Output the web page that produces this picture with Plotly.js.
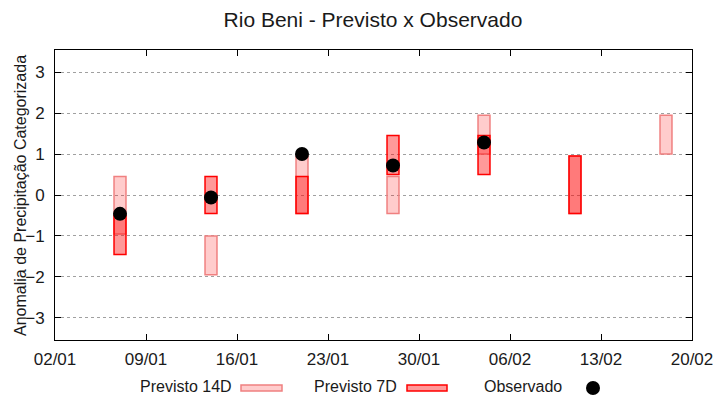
<!DOCTYPE html>
<html>
<head>
<meta charset="utf-8">
<script src="https://cdn.plot.ly/plotly-3.0.1.min.js"></script>
<style>html,body{margin:0;padding:0;background:#fff;}#chart{width:720px;height:400px;}</style>
</head>
<body>
<div id="chart"></div>
<script>
// ---- data ----
var dates      = ['2023-01-07','2023-01-14','2023-01-21','2023-01-28','2023-02-04','2023-02-11','2023-02-18'];
var p14Low     = [-0.95, -1.95, -0.45, -0.45, 1.00, -0.45, 1.00];
var p14High    = [ 0.45, -1.00,  0.95,  0.45, 1.95,  0.95, 1.95];
var p7Low      = [-1.45, -0.45, -0.45,  0.50, 0.50, -0.45, null];
var p7High     = [-0.50,  0.45,  0.45,  1.45, 1.45,  0.95, null];
var observed   = [-0.46, -0.06,  1.00,  0.72, 1.28,  null, null];
var xTickVals  = ['2023-01-02','2023-01-09','2023-01-16','2023-01-23','2023-01-30','2023-02-06','2023-02-13','2023-02-20'];
var xTickText  = ['02/01','09/01','16/01','23/01','30/01','06/02','13/02','20/02'];
var yTickVals  = [-3, -2, -1, 0, 1, 2, 3];

var DAY = 86400000;
var FONT = 'Liberation Sans, Arial, sans-serif';

function spans(lo, hi) { return hi.map(function (h, i) { return (h === null || lo[i] === null) ? null : h - lo[i]; }); }

var tr14 = {
  type: 'bar', x: dates, base: p14Low, y: spans(p14Low, p14High),
  width: dates.map(function () { return 0.92 * DAY; }),
  marker: { color: 'rgba(255,0,0,0.2)', line: { color: 'rgb(240,128,128)', width: 1.5 } },
  name: 'Previsto 14D', hoverinfo: 'skip'
};
var tr7 = {
  type: 'bar', x: dates, base: p7Low, y: spans(p7Low, p7High),
  width: dates.map(function () { return 0.92 * DAY; }),
  marker: { color: 'rgba(255,0,0,0.4)', line: { color: 'rgb(255,0,0)', width: 1.5 } },
  name: 'Previsto 7D', hoverinfo: 'skip'
};
var trObs = {
  type: 'scatter', mode: 'markers', x: dates, y: observed,
  marker: { color: 'black', size: 14, symbol: 'circle' },
  name: 'Observado', cliponaxis: false
};

// custom legend (text followed by sample, as in the reference)
var L = 55, T = 50, W = 637, H = 290;
function px(x) { return (x - L) / W; }
function py(y) { return (T + H - y) / H; }
var legY = 386;

var annotations = [
  { text: 'Previsto 14D', x: px(234), y: py(legY), xanchor: 'right', yanchor: 'middle' },
  { text: 'Previsto 7D',  x: px(399), y: py(legY), xanchor: 'right', yanchor: 'middle' },
  { text: 'Observado',    x: px(564), y: py(legY), xanchor: 'right', yanchor: 'middle' },
  { text: 'Anomalia de Precipitação Categorizada', x: px(20), y: py(196), xanchor: 'center', yanchor: 'middle', textangle: -90 }
].map(function (a) {
  a.xref = 'paper'; a.yref = 'paper'; a.showarrow = false;
  a.font = { family: FONT, size: 16, color: '#1a1a1a' };
  return a;
});

var shapes = [
  { type: 'rect', xref: 'paper', yref: 'paper', x0: px(241), x1: px(282), y0: py(391), y1: py(385),
    fillcolor: 'rgba(255,0,0,0.2)', line: { color: 'rgb(240,128,128)', width: 1.5 } },
  { type: 'rect', xref: 'paper', yref: 'paper', x0: px(407), x1: px(447), y0: py(391), y1: py(385),
    fillcolor: 'rgba(255,0,0,0.4)', line: { color: 'rgb(255,0,0)', width: 1.5 } },
  { type: 'circle', xref: 'paper', yref: 'paper', xsizemode: 'pixel', ysizemode: 'pixel',
    xanchor: px(593), yanchor: py(388), x0: -7, x1: 7, y0: -7, y1: 7,
    fillcolor: 'black', line: { color: 'black', width: 0 } }
];

var layout = {
  width: 720, height: 400,
  margin: { l: L, r: 720 - L - W, t: T, b: 400 - T - H, pad: 0 },
  paper_bgcolor: 'white', plot_bgcolor: 'white',
  showlegend: false,
  barmode: 'overlay',
  title: { text: 'Rio Beni - Previsto x Observado', x: 0.518, xanchor: 'center', y: 0.95, yanchor: 'middle',
           font: { family: FONT, size: 21, color: '#1a1a1a' } },
  xaxis: {
    type: 'date', range: ['2023-01-02', '2023-02-20'],
    tickvals: xTickVals, ticktext: xTickText,
    ticks: 'inside', ticklen: 6, tickwidth: 1, tickcolor: 'black',
    showline: true, linecolor: 'black', linewidth: 1, mirror: 'ticks',
    showgrid: false, zeroline: false, ticklabelstandoff: 4,
    tickfont: { family: FONT, size: 17, color: '#1a1a1a' }
  },
  yaxis: {
    range: [-3.54, 3.54], tickvals: yTickVals,
    ticks: 'inside', ticklen: 6, tickwidth: 1, tickcolor: 'black',
    showline: true, linecolor: 'black', linewidth: 1, mirror: 'ticks',
    showgrid: true, gridcolor: '#a0a0a0', gridwidth: 1, griddash: 'dot',
    zeroline: false, ticklabelstandoff: 6,
    tickfont: { family: FONT, size: 17, color: '#1a1a1a' }
  },
  annotations: annotations,
  shapes: shapes
};

Plotly.newPlot('chart', [tr14, tr7, trObs], layout, { staticPlot: true, displayModeBar: false });
</script>
</body>
</html>
